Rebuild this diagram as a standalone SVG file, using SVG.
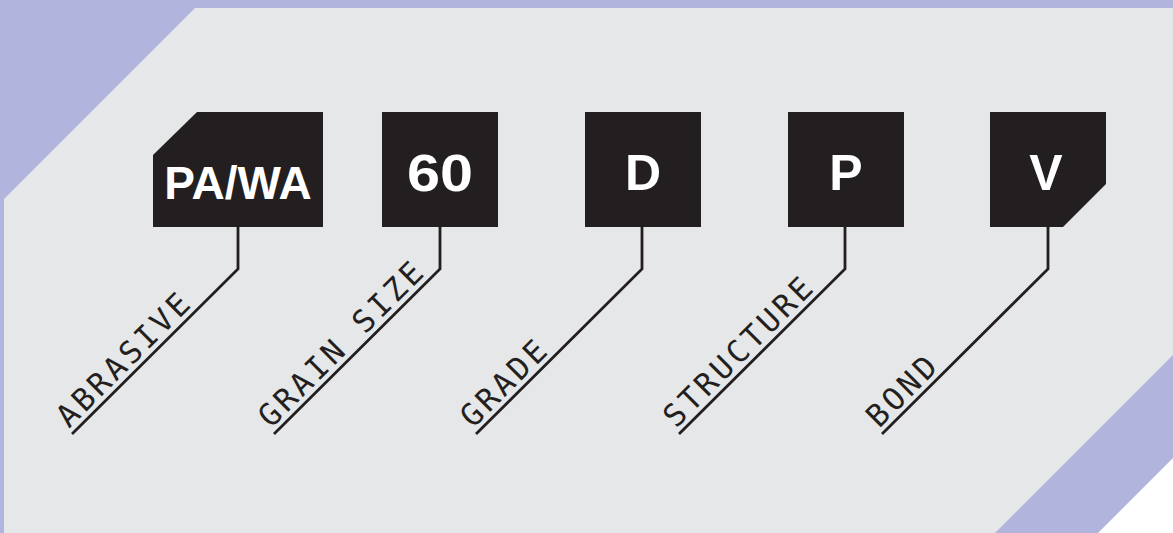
<svg xmlns="http://www.w3.org/2000/svg" width="1173" height="533" viewBox="0 0 1173 533">
<style>
.bx{fill:#231f20}
.code{fill:#ffffff;font-family:"Liberation Sans",Arial,sans-serif;font-weight:bold;text-anchor:middle}
.lbl{fill:#231f20;font-family:"DejaVu Sans Mono",monospace;font-size:31px;letter-spacing:3.5px}
.con{fill:none;stroke:#231f20;stroke-width:2.8;stroke-linejoin:miter}
</style>
<rect x="0" y="0" width="1173" height="533" fill="#b1b4dc"/>
<polygon points="195,8 1173,8 1173,355 995,533 4,533 4,199" fill="#e6e7e8"/>
<polygon points="1173,458 1173,533 1098,533" fill="#ffffff"/>
<g id="connectors">
<polyline class="con" points="238,227 238,269 72,434"/>
<polyline class="con" points="440,227 440,269 274,434"/>
<polyline class="con" points="642,227 642,269 476,434"/>
<polyline class="con" points="845,227 845,269 679,434"/>
<polyline class="con" points="1048,227 1048,269 882,434"/>
</g>
<g id="node-abrasive">
<polygon class="bx" points="197,112 323,112 323,227 153,227 153,155"/>
<text class="code" x="238" y="199" font-size="46">PA/WA</text>
<text class="lbl" transform="translate(69,429) rotate(-45)">ABRASIVE</text>
</g>
<g id="node-grain">
<rect class="bx" x="382" y="112" width="116" height="115"/>
<text class="code" x="440" y="191" font-size="52" textLength="66" lengthAdjust="spacingAndGlyphs">60</text>
<text class="lbl" transform="translate(271,429) rotate(-45)">GRAIN SIZE</text>
</g>
<g id="node-grade">
<rect class="bx" x="585" y="112" width="116" height="115"/>
<text class="code" x="643" y="190" font-size="50">D</text>
<text class="lbl" transform="translate(473,429) rotate(-45)">GRADE</text>
</g>
<g id="node-structure">
<rect class="bx" x="788" y="112" width="116" height="115"/>
<text class="code" x="846" y="190" font-size="50">P</text>
<text class="lbl" transform="translate(676,429) rotate(-45)">STRUCTURE</text>
</g>
<g id="node-bond">
<polygon class="bx" points="990,112 1106,112 1106,184 1063,227 990,227"/>
<text class="code" x="1046" y="190" font-size="50">V</text>
<text class="lbl" transform="translate(879,429) rotate(-45)">BOND</text>
</g>
</svg>
